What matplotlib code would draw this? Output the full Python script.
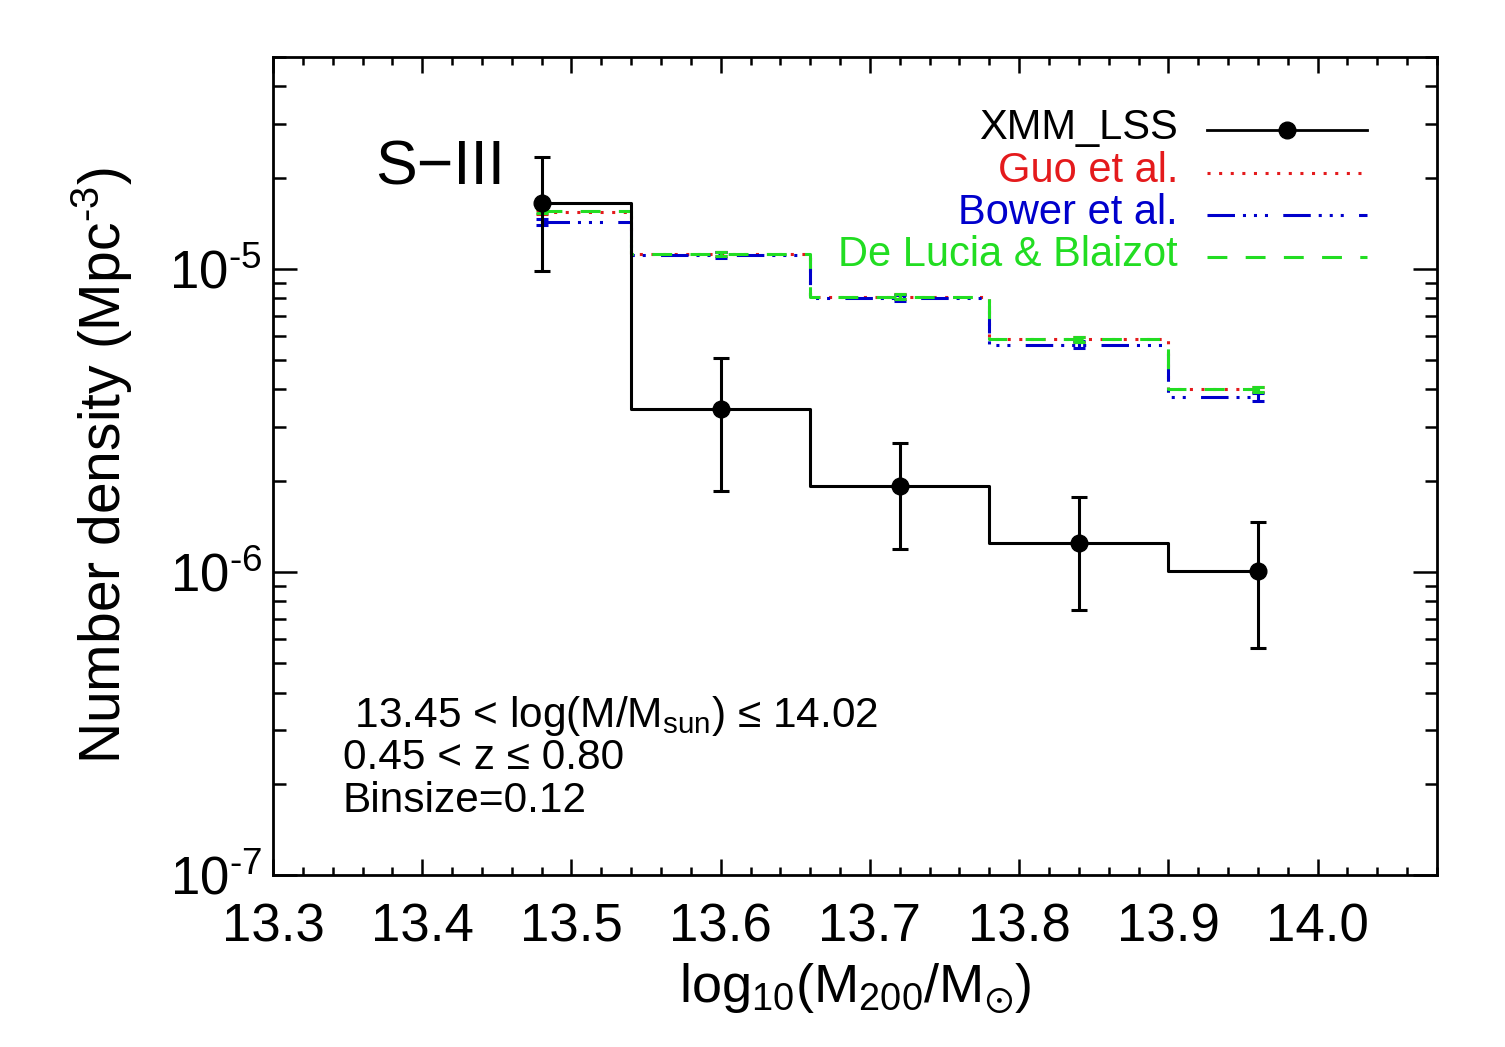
"""Cluster halo mass function, S-III bin: XMM_LSS vs three semi-analytic models."""
import matplotlib
matplotlib.use("Agg")
import numpy as np
import matplotlib.pyplot as plt
from matplotlib.ticker import MultipleLocator, LogLocator, NullFormatter, FuncFormatter

plt.rcParams["font.family"] = ["Liberation Sans", "DejaVu Sans"]
plt.rcParams["mathtext.fontset"] = "custom"
plt.rcParams["mathtext.rm"] = "Liberation Sans"
plt.rcParams["mathtext.it"] = "Liberation Sans:italic"
plt.rcParams["mathtext.bf"] = "Liberation Sans:bold"
plt.rcParams["mathtext.fallback"] = "stixsans"
plt.rcParams["axes.unicode_minus"] = False

# bin centres, log10(M200/Msun)
mass = [13.48, 13.60, 13.72, 13.84, 13.96]

# observed number density (Mpc^-3) and asymmetric errors
xmm = [1.65e-5, 3.45e-6, 1.92e-6, 1.25e-6, 1.01e-6]
xmm_hi = [2.33e-5, 5.09e-6, 2.66e-6, 1.76e-6, 1.46e-6]
xmm_lo = [9.8e-6, 1.85e-6, 1.19e-6, 7.5e-7, 5.6e-7]

# model predictions
guo = [1.54e-5, 1.12e-5, 8.1e-6, 5.85e-6, 4.0e-6]
guo_err = [2.5e-7, 1.8e-7, 1.3e-7, 1.0e-7, 8e-8]
bower = [1.43e-5, 1.11e-5, 8.0e-6, 5.62e-6, 3.77e-6]
bower_err = [3.5e-7, 2.5e-7, 1.8e-7, 1.5e-7, 1.2e-7]
delucia = [1.55e-5, 1.12e-5, 8.1e-6, 5.85e-6, 4.0e-6]
delucia_err = [2.5e-7, 1.8e-7, 1.3e-7, 1.0e-7, 8e-8]

RED = "#e41a1c"
BLUE = "#0000cc"
GREEN = "#22dd22"

DOT = (0, (1.0, 2.8))
DASH3DOT = (0, (9, 2.6, 1.0, 2.6, 1.0, 2.6, 1.0, 5.0))
DASH = (0, (6.5, 6.0))


def pow10_label(v, pos):
    # IDL-style exponent with a plain hyphen
    e = int(round(np.log10(v)))
    return r"$10^{\text{%d}}$" % e


fig = plt.figure(figsize=(15.05, 10.47), dpi=100)
ax = fig.add_axes([0.1814, 0.1643, 0.7734, 0.7813])

models = [
    ("Guo et al.", guo, guo_err, RED, DOT),
    ("Bower et al.", bower, bower_err, BLUE, DASH3DOT),
    ("De Lucia & Blaizot", delucia, delucia_err, GREEN, DASH),
]
for name, vals, err, col, ls in models:
    ax.plot(mass, vals, drawstyle="steps-mid", color=col, lw=2.2, linestyle=ls)
    ax.errorbar(mass, vals, yerr=err, fmt="none", ecolor=col, elinewidth=2.2,
                capsize=4, capthick=2.2)

yerr = [[v - lo for v, lo in zip(xmm, xmm_lo)], [hi - v for v, hi in zip(xmm, xmm_hi)]]
ax.plot(mass, xmm, drawstyle="steps-mid", color="black", lw=2.2)
ax.errorbar(mass, xmm, yerr=yerr, fmt="o", color="black", ms=12, elinewidth=2.2,
            capsize=6, capthick=2.2)

ax.set_yscale("log")
ax.set_xlim(13.3, 14.08)
ax.set_ylim(1e-7, 5e-5)

ax.xaxis.set_major_locator(MultipleLocator(0.1))
ax.xaxis.set_minor_locator(MultipleLocator(0.02))
ax.yaxis.set_major_locator(LogLocator(base=10))
ax.yaxis.set_major_formatter(FuncFormatter(pow10_label))
ax.yaxis.set_minor_locator(LogLocator(base=10, subs=range(2, 10)))
ax.yaxis.set_minor_formatter(NullFormatter())

for s in ax.spines.values():
    s.set_linewidth(2)
ax.tick_params(which="both", direction="in", top=True, right=True, width=1.8,
               labelsize=38)
ax.tick_params(axis="x", which="major", length=11.5, pad=20)
ax.tick_params(axis="x", which="minor", length=5.8)
ax.tick_params(axis="y", which="major", length=17, pad=8)
ax.tick_params(axis="y", which="minor", length=9)

ax.set_xlabel(r"log$_{10}$(M$_{200}$/M$_{\odot}$)", fontsize=39, labelpad=6)
ax.set_ylabel(r"Number density (Mpc$^{\text{-3}}$)", fontsize=41)
ax.yaxis.set_label_coords(-0.1186, 0.5)

ax.text(0.0876, 0.8435, "S\u2212III", transform=ax.transAxes, fontsize=45,
        va="baseline")

ax.text(0.060, 0.181, r" 13.45 < log(M/M$_\mathrm{sun}$) ≤ 14.02", transform=ax.transAxes,
        fontsize=30.5, va="baseline")
ax.text(0.060, 0.1296, "0.45 < z ≤ 0.80", transform=ax.transAxes, fontsize=30.5,
        va="baseline")
ax.text(0.060, 0.077, "Binsize=0.12", transform=ax.transAxes, fontsize=30.5,
        va="baseline")

# hand-drawn legend, text right-aligned before the sample line
legend_rows = [
    ("XMM_LSS", "black", "-", 0.9108),
    ("Guo et al.", RED, DOT, 0.8582),
    ("Bower et al.", BLUE, DASH3DOT, 0.8068),
    ("De Lucia & Blaizot", GREEN, DASH, 0.7555),
]
x_text, x0, x1 = 0.7775, 0.8024, 0.9399
for label, col, ls, yy in legend_rows:
    ax.text(x_text, yy - 0.011, label, color=col, fontsize=30, ha="right",
            va="baseline", transform=ax.transAxes)
    ax.plot([x0, x1], [yy, yy], color=col, lw=2 if ls == "-" else 2.2,
            linestyle=ls, transform=ax.transAxes, clip_on=False)
ax.plot([(x0 + x1) / 2], [legend_rows[0][3]], "o", color="black", ms=12,
        transform=ax.transAxes, clip_on=False)

fig.savefig("out.png", dpi=100)
